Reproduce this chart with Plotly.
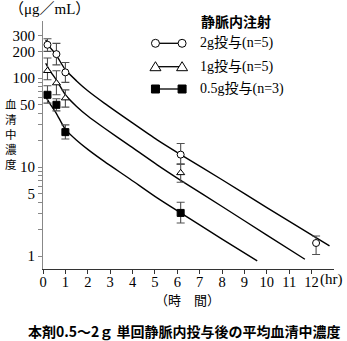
import plotly.graph_objects as go

# ---------------- data ----------------
t_early = [0.2, 0.6, 1.0]
t_late_2g = [6.15, 12.2]
t_late = [6.15]

t_2g = t_early + t_late_2g
v_2g = [237, 186, 116, 13.8, 1.40]
hi_2g = [277, 246, 150, 18.4, 1.68]
lo_2g = [200, 141, 89.5, 10.8, 1.04]

t_1g = t_early + t_late
v_1g = [121, 88, 59.6, 8.6]
hi_1g = [168, 121, 73.8, 10.8]
lo_1g = [95.7, 64.9, 47.2, 6.75]

t_05g = t_early + t_late
v_05g = [64.9, 50.1, 24.7, 3.05]
hi_05g = [81.9, 58.5, 29.8, 4.02]
lo_05g = [52.3, 42.8, 20.7, 2.35]

# fitted curves
ct_2g = [0.12, 0.3, 0.6, 1.0, 1.5, 2.0, 2.75, 3.9, 5.1, 6.15, 8, 10, 12.8]
cv_2g = [270, 225, 180, 124, 93, 72, 52, 32.6, 20.2, 13.8, 7.2, 3.5, 1.3]
ct_1g = [0.12, 0.3, 0.6, 1.0, 1.5, 2.0, 2.75, 3.9, 5.1, 6.15, 8, 10, 11.7]
cv_1g = [147, 122, 95, 65, 48, 37.5, 27.3, 17.2, 10.6, 7.1, 3.6, 1.72, 0.92]
ct_05g = [0.12, 0.3, 0.6, 1.0, 1.5, 2.0, 2.75, 3.9, 5.1, 6.15, 8, 9.57]
cv_05g = [62, 52, 40, 26.5, 20.0, 15.8, 11.5, 7.3, 4.5, 3.05, 1.55, 0.88]

x_ticks = list(range(0, 13))
y_labeled = [1, 5, 10, 50, 100, 200, 300]
y_minor = [2, 3, 4, 6, 7, 8, 9, 20, 30, 40, 60, 70, 80, 90]

legend_title = "静脈内注射"
legend_labels = ["2g投与(n=5)", "1g投与(n=5)", "0.5g投与(n=3)"]
y_title_chars = list("血清中濃度")
unit_text = "（μg／mL）"
x_title = "（時　間）"
caption = "本剤0.5～2ｇ 単回静脈内投与後の平均血清中濃度"

# ---------------- layout geometry ----------------
W, H = 347, 341
ML, MR, MT, MB = 39, 13, 21, 72
PW, PH = W - ML - MR, H - MT - MB


def px(x):
    return (x - ML) / PW


def py(y):
    return (H - MB - y) / PH


SERIF = "Liberation Serif, Noto Sans CJK JP"
CJK = "Noto Sans CJK JP"

fig = go.Figure()

line_style = dict(color="black", width=1.4)
for ct, cv in [(ct_2g, cv_2g), (ct_1g, cv_1g), (ct_05g, cv_05g)]:
    fig.add_trace(go.Scatter(x=ct, y=cv, mode="lines", line=dict(shape="spline", smoothing=0.6, **line_style),
                             hoverinfo="skip", showlegend=False))


def err(v, hi, lo):
    return dict(type="data", symmetric=False,
                array=[h - a for h, a in zip(hi, v)],
                arrayminus=[a - l for a, l in zip(v, lo)],
                color="#505050", thickness=1.1, width=4)


fig.add_trace(go.Scatter(x=t_2g, y=v_2g, mode="markers", error_y=err(v_2g, hi_2g, lo_2g),
                         marker=dict(symbol="circle", size=7, color="white", line=dict(color="black", width=1)),
                         showlegend=False))
fig.add_trace(go.Scatter(x=t_1g, y=v_1g, mode="markers", error_y=err(v_1g, hi_1g, lo_1g),
                         marker=dict(symbol="triangle-up", size=7, color="white", line=dict(color="black", width=1)),
                         showlegend=False))
fig.add_trace(go.Scatter(x=t_05g, y=v_05g, mode="markers", error_y=err(v_05g, hi_05g, lo_05g),
                         marker=dict(symbol="square", size=7, color="black", line=dict(color="black", width=1)),
                         showlegend=False))

tickvals = y_labeled + y_minor
ticktext = [str(v) for v in y_labeled] + ["" for _ in y_minor]

fig.update_layout(
    width=W, height=H,
    margin=dict(l=ML, r=MR, t=MT, b=MB),
    paper_bgcolor="white", plot_bgcolor="white",
    showlegend=False,
    xaxis=dict(range=[0, 13.0], tickvals=x_ticks, ticktext=[str(v) for v in x_ticks],
               showgrid=False, zeroline=False, showline=True, linecolor="#333", linewidth=1.2,
               ticks="outside", ticklen=4, tickcolor="#333", ticklabelstandoff=-5,
               tickfont=dict(family=SERIF, size=14.5, color="black")),
    yaxis=dict(type="log", range=[-0.146, 2.642], tickvals=tickvals, ticktext=ticktext,
               showgrid=False, zeroline=False, showline=True, linecolor="#888", linewidth=1.2,
               ticks="outside", ticklen=4, tickcolor="#888",
               tickfont=dict(family=SERIF, size=15, color="black")),
)

shapes = []
rows = [43.3, 66.7, 89.0]
xa, xb = 153, 180
for i, ry in enumerate(rows):
    shapes.append(dict(type="line", xref="paper", yref="paper", x0=px(xa), x1=px(xb), y0=py(ry), y1=py(ry),
                       line=dict(color="black", width=1.3)))
    for cx in (xa, xb):
        if i == 0:
            shapes.append(dict(type="circle", xref="paper", yref="paper", xsizemode="pixel", ysizemode="pixel",
                               xanchor=px(cx), yanchor=py(ry), x0=-4, x1=4, y0=-4, y1=4,
                               fillcolor="white", line=dict(color="black", width=1)))
        elif i == 1:
            shapes.append(dict(type="path", xref="paper", yref="paper", xsizemode="pixel", ysizemode="pixel",
                               xanchor=px(cx), yanchor=py(ry), path="M -5.5 -4 L 5.5 -4 L 0 5 Z",
                               fillcolor="white", line=dict(color="black", width=1)))
        else:
            shapes.append(dict(type="rect", xref="paper", yref="paper", xsizemode="pixel", ysizemode="pixel",
                               xanchor=px(cx), yanchor=py(ry), x0=-4, x1=4, y0=-4, y1=4,
                               fillcolor="black", line=dict(color="black", width=1)))
fig.update_layout(shapes=shapes)

ann = []
ann.append(dict(text="<b>" + legend_title + "</b>", x=px(197), y=py(21), xanchor="left", yanchor="middle",
                font=dict(family=CJK, size=14, color="black")))
for lab, ry in zip(legend_labels, rows):
    ann.append(dict(text=lab, x=px(196), y=py(ry), xanchor="left", yanchor="middle",
                    font=dict(family=SERIF, size=14, color="black")))
ann.append(dict(text=unit_text, x=px(3), y=py(9), xanchor="left", yanchor="middle",
                font=dict(family=SERIF, size=15, color="black")))
ann.append(dict(text="<br>".join(y_title_chars), x=px(7), y=py(134), xanchor="center", yanchor="middle",
                align="center", font=dict(family=CJK, size=11.5, color="black")))
ann.append(dict(text="(hr)", x=px(318), y=py(279), xanchor="left", yanchor="middle",
                font=dict(family=SERIF, size=15, color="black")))
ann.append(dict(text=x_title, x=px(185), y=py(299), xanchor="center", yanchor="middle",
                font=dict(family=CJK, size=13, color="black")))
ann.append(dict(text="<b>" + caption + "</b>", x=px(182), y=py(331), xanchor="center", yanchor="middle",
                font=dict(family=CJK, size=14, color="black")))
for a in ann:
    a.update(xref="paper", yref="paper", showarrow=False)
fig.update_layout(annotations=ann)

fig.write_html("out.html")
